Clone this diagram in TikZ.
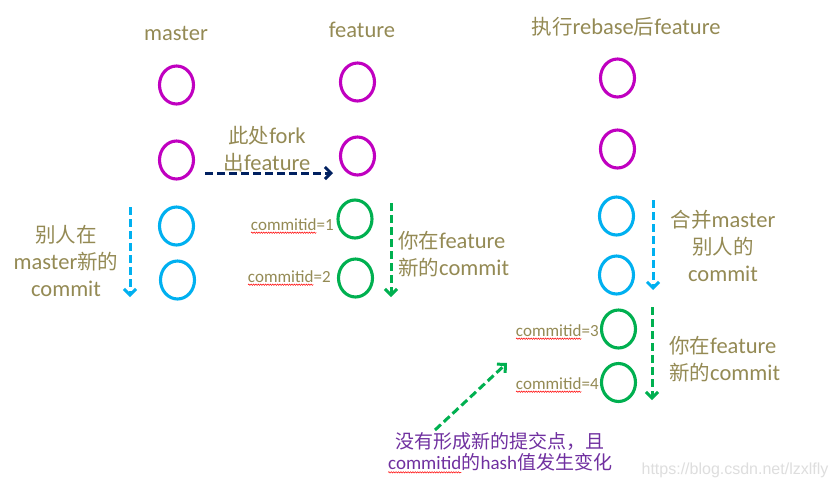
\documentclass[tikz,border=0pt]{standalone}
\usepackage{fontspec}
\setmainfont{Carlito}
\newfontfamily\cjk{Noto Sans CJK SC}
\newfontfamily\wmfont{Liberation Sans}
\usetikzlibrary{arrows.meta,shapes.geometric,decorations.pathmorphing}
\definecolor{magc}{HTML}{C000C0}
\definecolor{cyanb}{HTML}{00B0F0}
\definecolor{grn}{HTML}{00B050}
\definecolor{navyc}{HTML}{002060}
\definecolor{tancol}{HTML}{948A54}
\definecolor{purp}{HTML}{7030A0}
\newcommand{\zh}[1]{{\cjk #1}}
\newcommand{\zhl}[1]{{\cjk\fontsize{20.5}{27}\selectfont #1}}
\newcommand{\wavy}[1]{\tikz[baseline=(w.base)]{\node[inner sep=0pt,outer sep=0pt] (w) {#1};\draw[red,line width=0.5pt,decorate,decoration={snake,amplitude=0.7pt,segment length=2.4pt}] ([yshift=-2.5pt]w.base west) -- ([yshift=-2.5pt]w.base east);}}
\begin{document}
\begin{tikzpicture}[x=1pt,y=-1pt,
  commitnode/.style={ellipse,inner sep=0pt,minimum width=34pt,minimum height=38pt,line width=3.1pt},
  lbl/.style={inner sep=0pt,text=tancol,font={\fontsize{22.5}{27}\selectfont}},
  cid/.style={inner sep=0pt,text=tancol,anchor=east,font={\fontsize{17}{19}\selectfont}},
  ptxt/.style={inner sep=0pt,text=purp,font={\fontsize{19}{21}\selectfont}},
  wmk/.style={inner sep=0pt,text=black!13,font={\wmfont\fontsize{16}{18}\selectfont}},
  darr/.style={line width=3pt,dash pattern=on 8pt off 4pt,-{Straight Barb[length=6pt,width=12pt]}}
]
\useasboundingbox (0,0) rectangle (836,488);
\fill[white] (0,0) rectangle (836,488);
% master column
\node[commitnode,draw=magc] (m1) at (176.5,85) {};
\node[commitnode,draw=magc] (m2) at (176.5,160) {};
\node[commitnode,draw=cyanb] (m3) at (176.5,226) {};
\node[commitnode,draw=cyanb] (m4) at (177.5,280) {};
% feature column
\node[commitnode,draw=magc] (f1) at (357.5,82) {};
\node[commitnode,draw=magc] (f2) at (357.5,156) {};
\node[commitnode,draw=grn] (f3) at (355,219) {};
\node[commitnode,draw=grn] (f4) at (355.5,278) {};
% rebased column
\node[commitnode,draw=magc] (r1) at (617.5,78) {};
\node[commitnode,draw=magc] (r2) at (617.5,149) {};
\node[commitnode,draw=cyanb] (r3) at (616.5,216) {};
\node[commitnode,draw=cyanb] (r4) at (616.5,275) {};
\node[commitnode,draw=grn] (r5) at (618.5,329) {};
\node[commitnode,draw=grn] (r6) at (618.5,382.5) {};
% titles
\node[lbl] (tm) at (176,33) {master};
\node[lbl] (tf) at (362,30) {feature};
\node[lbl] (tr) at (626,27) {\zhl{执行}rebase\zhl{后}feature};
% labels
\node[lbl,align=center] (tfork) at (267,149) {\zhl{此处}fork\\\zhl{出}feature};
\node[lbl,align=center] (tother) at (66,261) {\zhl{别人在}\\master\zhl{新的}\\commit};
\node[lbl,align=left,anchor=west] (tyou1) at (398,254.5) {\zhl{你在}feature\\\zhl{新的}commit};
\node[lbl,align=center] (tmerge) at (723,246) {\zhl{合并}master\\\zhl{别人的}\\commit};
\node[lbl,align=left,anchor=west] (tyou2) at (669,359) {\zhl{你在}feature\\\zhl{新的}commit};
\node[cid] (c1) at (334,226) {\wavy{commitid}=1};
\node[cid] (c2) at (331,278) {\wavy{commitid}=2};
\node[cid] (c3) at (599,332) {\wavy{commitid}=3};
\node[cid] (c4) at (599,385) {\wavy{commitid}=4};
\node[ptxt,align=center] (note) at (500,453) {\zh{没有形成新的提交点，且}\\\wavy{commitid}\zh{的}hash\zh{值发生变化}};
\node[wmk] (wm) at (735,470) {https://blog.csdn.net/lzxlfly};
% arrows
\coordinate (fa) at (205,173); \coordinate (fb) at (333,173);
\draw[darr,navyc] (fa) -- (fb);
\coordinate (ba) at (130,207); \coordinate (bb) at (130,297);
\draw[darr,cyanb] (ba) -- (bb);
\coordinate (ga) at (391,203); \coordinate (gb) at (391,297);
\draw[darr,grn] (ga) -- (gb);
\coordinate (rba) at (653,200); \coordinate (rbb) at (653,290);
\draw[darr,cyanb] (rba) -- (rbb);
\coordinate (rga) at (652,307); \coordinate (rgb) at (652,400);
\draw[darr,grn] (rga) -- (rgb);
\coordinate (da) at (435,430); \coordinate (db) at (507,363);
\draw[darr,grn] (da) -- (db);
\end{tikzpicture}
\end{document}
